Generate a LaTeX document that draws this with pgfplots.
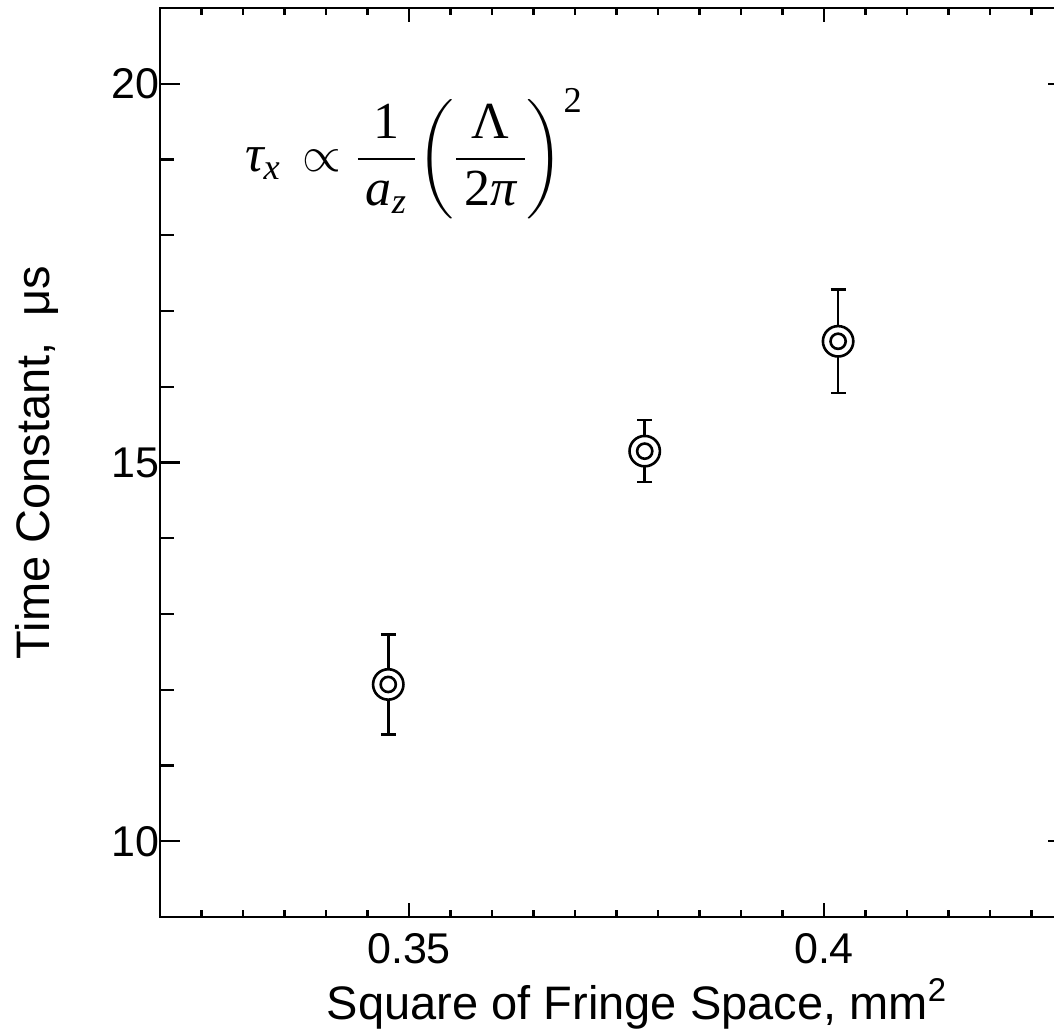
\documentclass[border=0pt]{standalone}
\usepackage{pgfplots}
\pgfplotsset{compat=1.18}
\usepackage{amsmath}
\usepackage{fontspec}
\setmainfont{Liberation Sans}
\newfontfamily\tms{Liberation Serif}
\usetikzlibrary{calc}
\pgfplotstableread{
x y e
0.3475 12.07 0.66
0.3784 15.15 0.41
0.4017 16.60 0.68
}\datatab
\begin{document}
\begin{tikzpicture}
\pgfplotsset{common/.style={
  scale only axis, width=456.5pt, height=454.5pt,
  xmin=0.32, xmax=0.43, ymin=9, ymax=21,
  font=\fontsize{21.5}{25}\selectfont,
  axis line style={line width=1.2pt},
  every tick/.style={black, line width=1.1pt},
  /pgf/number format/assume math mode=true,
  tick align=inside,
}}
\begin{axis}[common,
  xtick=\empty,
  ytick={10,15,20},
  minor ytick={9,11,12,13,14,16,17,18,19},
  ytick pos=left,
  major tick length=10pt, minor tick length=7pt,
  yticklabel style={xshift=3pt},
  ylabel={Time Constant,\ \ μs},
  ylabel style={at={(axis description cs:-0.1347,0.5)}, anchor=center, font=\fontsize{23.5}{27}\selectfont},
]
\addplot[black, only marks, mark=*, mark size=7.6pt, mark options={fill=white, line width=1.3pt},
  error bars/.cd, y dir=both, y explicit,
  error bar style={line width=1.3pt},
  error mark options={rotate=90, mark size=3.7pt, line width=1.3pt, black}]
  table[x=x, y=y, y error=e] {\datatab};
\addplot[black, only marks, mark=o, mark size=3.8pt, mark options={line width=1.3pt}]
  table[x=x, y=y] {\datatab};
\node[anchor=base west, inner sep=0pt] at (axis cs:0.3302,18.839) {\fontsize{26}{31}\selectfont
  $\displaystyle \text{\tms\itshape τ}_{\text{\tms\itshape x}}\,\propto\frac{\text{\tms 1}}{\hspace{4pt}\text{\tms\itshape a}_{\text{\tms\itshape z}}\hspace{4pt}}\biggl(\frac{\text{\tms Λ}}{\hspace{4pt}\text{\tms 2\itshape π}\hspace{4pt}}\biggr)^{\text{\tms 2}}$};
\coordinate (sw) at (rel axis cs:0,0);
\end{axis}
\begin{axis}[common,
  ytick=\empty,
  xtick={0.35,0.4},
  minor xtick={0.325,0.33,0.335,0.34,0.345,0.355,0.36,0.365,0.37,0.375,0.38,0.385,0.39,0.395,0.405,0.41,0.415,0.42,0.425},
  major tick length=7pt, minor tick length=3.5pt,
  xticklabel style={yshift=-4.5pt},
  xlabel={Square of Fringe Space, mm\textsuperscript{2}},
  xlabel style={at={(axis description cs:0.5225,-0.1133)}, anchor=base, font=\fontsize{23.5}{27}\selectfont},
]
\end{axis}
\begin{axis}[common,
  xtick=\empty,
  ytick={10,20}, yticklabels={},
  ytick pos=right,
  major tick length=12.5pt,
]
\end{axis}
\pgfresetboundingbox
\path[use as bounding box] ($(sw)+(-80pt,-58pt)$) rectangle ($(sw)+(447pt,458.5pt)$);
\end{tikzpicture}
\end{document}
